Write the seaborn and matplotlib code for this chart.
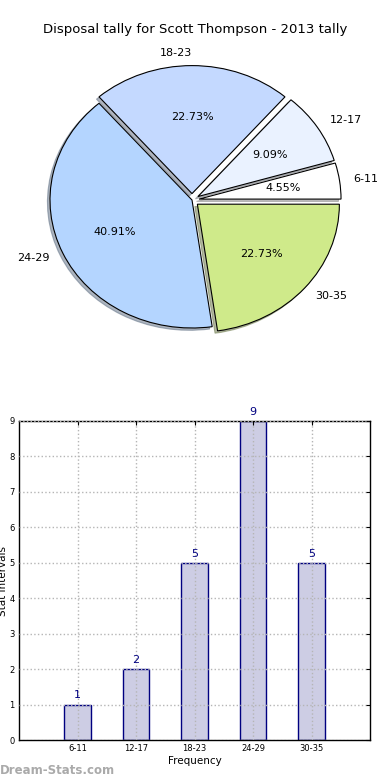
import matplotlib
matplotlib.use("Agg")
import matplotlib.pyplot as plt
import seaborn as sns

# data
categories = ["6-11", "12-17", "18-23", "24-29", "30-35"]
counts = [1, 2, 5, 9, 5]
pie_colors = ["#ffffff", "#eaf2ff", "#c4d9ff", "#b4d5ff", "#cfea8a"]
explode = [0.05, 0.05, 0.05, 0.0, 0.05]
title = "Disposal tally for Scott Thompson - 2013 tally"

sns.set_style("white")
plt.rcParams['font.family'] = ['DejaVu Sans']
plt.rcParams['text.color'] = 'black'
plt.rcParams['axes.labelcolor'] = 'black'
plt.rcParams['xtick.color'] = 'black'
plt.rcParams['ytick.color'] = 'black'

fig = plt.figure(figsize=(3.9, 7.8), dpi=100)

# pie (old-style, not forced to equal aspect)
ax_pie = fig.add_axes([14.5 / 390, 420 / 780, 355 / 390, 320 / 780])
wedges, texts, autotexts = ax_pie.pie(
    counts,
    labels=categories,
    colors=pie_colors,
    explode=explode,
    autopct="%.2f%%",
    shadow=dict(ox=-0.013, oy=-0.013, shade=0.5),
    startangle=0,
    wedgeprops=dict(edgecolor="black", linewidth=0.8),
    textprops=dict(fontsize=8, color="black"),
)
ax_pie.set_aspect("auto")
ax_pie.set_xlim(-1.25, 1.25)
ax_pie.set_ylim(-1.25, 1.25)
ax_pie.axis("off")
fig.text(195 / 390, 1 - 30 / 780, title, ha="center", va="center", fontsize=9.5)

# bar chart
ax = fig.add_axes([19 / 390, 40 / 780, 351 / 390, 319 / 780])
sns.barplot(x=categories, y=counts, color="#cdcde4", edgecolor="navy",
            linewidth=1, width=0.45, saturation=1, ax=ax)
ax.set_xlim(-1, 5)
ax.set_ylim(0, 9)
ax.set_yticks(range(0, 10))
ax.tick_params(axis="both", labelsize=6, direction="in", length=3,
               top=True, right=True, pad=3)
ax.grid(True, linestyle=":", color="#b5b5b5", linewidth=1)
ax.set_axisbelow(False)
for s in ax.spines.values():
    s.set_color("black")
    s.set_linewidth(1)
ax.set_xlabel("Frequency", fontsize=7.5, labelpad=2)
ax.set_ylabel("Stat Intervals", fontsize=7.5, labelpad=1)
for i, v in enumerate(counts):
    ax.text(i, v + 0.12, str(v), ha="center", va="bottom", color="navy",
            fontsize=8, clip_on=False)

fig.text(0, 10 / 780, "Dream-Stats.com", color="#aaaaaa", fontsize=8.5,
         fontweight="bold", ha="left", va="center")

fig.savefig("out.png", dpi=100)
